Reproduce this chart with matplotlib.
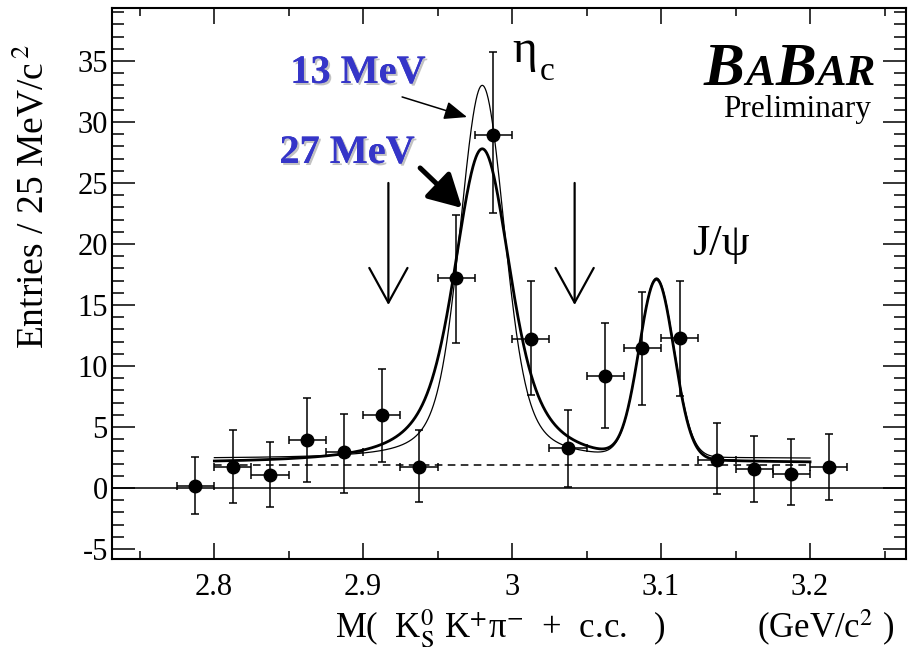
import numpy as np
import matplotlib
matplotlib.use("Agg")
import matplotlib.pyplot as plt
from matplotlib.ticker import MultipleLocator
import matplotlib.patheffects as pe

plt.rcParams['font.family'] = ['Liberation Serif', 'DejaVu Serif']
plt.rcParams['mathtext.fontset'] = 'stix'
plt.rcParams['axes.unicode_minus'] = False

# ---------------- data ----------------
mass = [2.7875, 2.8125, 2.8375, 2.8625, 2.8875, 2.9125, 2.9375, 2.9625, 2.9875,
        3.0125, 3.0375, 3.0625, 3.0875, 3.1125, 3.1375, 3.1625, 3.1875, 3.2125]
entries = [0.16, 1.72, 1.07, 3.93, 2.95, 5.98, 1.72, 17.2, 28.9,
           12.2, 3.28, 9.18, 11.5, 12.3, 2.3, 1.56, 1.15, 1.72]
err_low = [2.3, 2.95, 2.63, 3.44, 3.36, 3.85, 2.87, 5.3, 6.4,
           4.6, 3.2, 4.28, 4.7, 4.8, 2.79, 2.71, 2.55, 2.7]
err_high = [2.38, 3.03, 2.7, 3.45, 3.12, 3.77, 3.03, 5.2, 6.8,
            4.8, 3.11, 4.32, 4.6, 4.7, 3.03, 2.7, 2.85, 2.71]
bin_half_width = 0.0125

# fit parameters
fit_range = (2.8, 3.2)
bkg_dashed = 1.89
bkg_wide = 2.0
bkg_narrow = 2.4
eta_mass = 2.980
eta_width_wide = 0.027
eta_width_narrow = 0.013
resolution = 0.012
eta_peak_wide = 25.8
eta_peak_narrow = 30.6
jpsi_mass = 3.097
jpsi_sigma = 0.0117
jpsi_peak = 14.6

region_arrows_x = [2.917, 3.042]


def voigt_peak(m, gamma, sigma):
    step = 0.0002
    u = np.arange(2.3, 3.7, step)
    lor = (gamma / 2) ** 2 / ((u - m) ** 2 + (gamma / 2) ** 2)
    t = np.arange(-6 * sigma, 6 * sigma + step, step)
    g = np.exp(-0.5 * (t / sigma) ** 2)
    conv = np.convolve(lor, g / g.sum(), mode='same')
    conv /= conv.max()
    return u, conv


u, shape_wide = voigt_peak(eta_mass, eta_width_wide, resolution)
_, shape_narrow = voigt_peak(eta_mass, eta_width_narrow, resolution)
jpsi_shape = np.exp(-0.5 * ((u - jpsi_mass) / jpsi_sigma) ** 2)
sel = (u >= fit_range[0]) & (u <= fit_range[1])
curve_wide = bkg_wide + eta_peak_wide * shape_wide + jpsi_peak * jpsi_shape
curve_narrow = bkg_narrow + eta_peak_narrow * shape_narrow + jpsi_peak * jpsi_shape

# ---------------- figure ----------------
W, H = 908, 651
fig = plt.figure(figsize=(W / 100, H / 100), dpi=100)
ax = fig.add_axes([112 / W, 1 - 559 / H, (906 - 112) / W, (559 - 8) / H])

ax.set_xlim(2.7315, 3.2644)
ax.set_ylim(-5.82, 39.34)

ax.axhline(0, color='black', lw=1.1, zorder=1)
ax.plot(list(fit_range), [bkg_dashed, bkg_dashed], color='black', lw=1.1,
        ls=(0, (5, 3.5)), zorder=2)
ax.plot(u[sel], curve_narrow[sel], color='black', lw=0.9, zorder=3)
ax.plot(u[sel], curve_wide[sel], color='black', lw=2.0, zorder=4)

ax.errorbar(mass, entries, xerr=bin_half_width, yerr=[err_low, err_high],
            fmt='o', color='black', ms=9, elinewidth=1.1, capsize=3,
            capthick=1.1, zorder=5)

# axes styling
for s in ax.spines.values():
    s.set_linewidth(1.5)
ax.xaxis.set_major_locator(MultipleLocator(0.1))
ax.xaxis.set_minor_locator(MultipleLocator(0.05))
ax.yaxis.set_major_locator(MultipleLocator(5))
ax.yaxis.set_minor_locator(MultipleLocator(1))
ax.tick_params(which='both', direction='in', top=True, right=True, width=1.1)
ax.tick_params(axis='x', which='major', length=11.5, labelsize=22, pad=10)
ax.tick_params(axis='x', which='minor', length=5.5)
ax.tick_params(axis='y', which='major', length=16.5, labelsize=22, pad=3)
ax.tick_params(axis='y', which='minor', length=8.5)
ax.set_xticks([2.8, 2.9, 3.0, 3.1, 3.2])
ax.set_xticklabels(['2.8', '2.9', '3', '3.1', '3.2'])

# region arrows
for xa in region_arrows_x:
    ax.annotate('', xy=(xa, 15.0), xytext=(xa, 25.0),
                arrowprops=dict(arrowstyle='->,head_length=1.0,head_width=0.55',
                                lw=1.6, color='black', mutation_scale=25,
                                shrinkA=0, shrinkB=0))

# width labels
shadow = [pe.withSimplePatchShadow(offset=(1.5, -1.5), shadow_rgbFace='#9a9a9a', alpha=0.6), pe.Normal()]
ax.text(2.8966, 33.2, '13 MeV', color='#3535c8', fontsize=29, fontweight='bold',
        ha='center', va='baseline', path_effects=shadow)
ax.text(2.8893, 26.64, '27 MeV', color='#3535c8', fontsize=29, fontweight='bold',
        ha='center', va='baseline', path_effects=shadow)
ax.annotate('', xy=(2.9698, 30.4), xytext=(2.9262, 32.05),
            arrowprops=dict(arrowstyle='-|>,head_length=1.0,head_width=0.4',
                            lw=1.1, color='black', mutation_scale=14,
                            shrinkA=0, shrinkB=0))
ax.annotate('', xy=(2.9664, 22.95), xytext=(2.9383, 26.23),
            arrowprops=dict(arrowstyle='-|>,head_length=1.0,head_width=0.55',
                            lw=3.6, color='black', mutation_scale=20,
                            shrinkA=0, shrinkB=0))

# peak labels
ax.text(3.0000, 34.9, 'η', fontsize=34, ha='left', va='baseline')
ax.text(3.0185, 33.4, 'c', fontsize=24, ha='left', va='baseline')
ax.text(3.1208, 19.1, 'J/ψ', fontsize=32, ha='left', va='baseline')


def ftext(px, py, s, **kw):
    return fig.text(px / W, 1 - py / H, s, ha='left', va='baseline', **kw)


# BaBar logo, pieces placed one after another
renderer = fig.canvas.get_renderer()
logo = dict(fontweight='bold', fontstyle='italic')
x_cursor = 704
for piece, size in [('B', 44), ('A', 32), ('B', 44), ('AR', 32)]:
    t = ftext(x_cursor, 85, piece, fontsize=size, **logo)
    bb = t.get_window_extent(renderer)
    x_cursor = bb.x1 + 0.5
ftext(723, 117, 'Preliminary', fontsize=22.5)

# axis labels
ftext(335, 638, 'M(  K$_\\mathrm{S}^{0}$ K$^{+}$π$^{-}$  +  c.c.   )', fontsize=25)
ftext(757, 638, '(GeV/c$^{2}$ )', fontsize=25)
fig.text(33 / W, 1 - 197 / H, 'Entries / 25 MeV/c$^{\\,2}$', fontsize=27,
         rotation=90, ha='center', va='center')

fig.savefig('out.png', dpi=100)
